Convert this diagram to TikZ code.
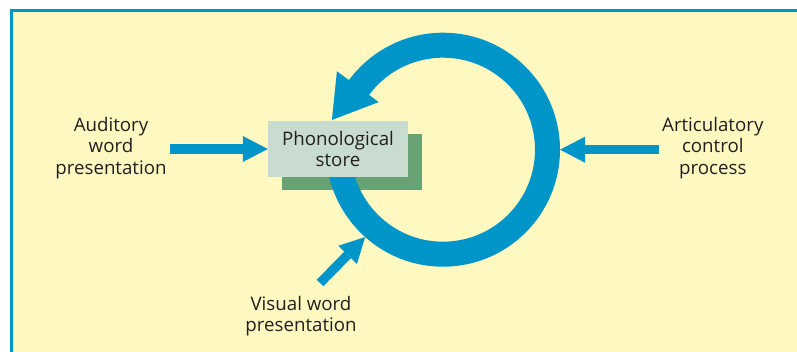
\documentclass[tikz,border=0pt]{standalone}
\usepackage{fontspec}
\setmainfont{Open Sans}
\usetikzlibrary{arrows.meta}
\definecolor{flowblue}{HTML}{0095C9}
\definecolor{paper}{HTML}{FFF9C1}
\definecolor{storefill}{HTML}{C9DCD0}
\definecolor{storeshade}{HTML}{67A174}
\definecolor{ink}{HTML}{231F20}
\pgfdeclarelayer{bg}
\pgfdeclarelayer{shade}
\pgfsetlayers{bg,shade,main}
\begin{document}
\begin{tikzpicture}[x=1pt,y=1pt,
  txt/.style={align=center, text=ink, inner sep=3pt,
    font=\fontsize{18.7}{21.3}\selectfont},
  storebox/.style={txt, fill=storefill, minimum width=140pt,
    minimum height=56pt, inner sep=0pt},
  feed/.style={draw=flowblue, line width=9.3pt,
    -{Triangle[length=25pt,width=26pt,line width=0pt]}},
  loop/.style={draw=flowblue, line width=25pt}]
\useasboundingbox (0,0) rectangle (797,352);

% panel: white margin, pale paper, blue rule on top and left
\begin{pgfonlayer}{bg}
  \fill[white] (0,0) rectangle (797,352);
  \fill[paper] (12,0) rectangle (797,341);
  \draw[flowblue, line width=3pt] (10,341.5) -- (797,341.5);
  \draw[flowblue, line width=3pt] (11.5,0) -- (11.5,343);
\end{pgfonlayer}

% rehearsal loop around the store
\coordinate (rc) at (443,202.3);
\draw[loop] ([shift={(rc)}]180:104.5) arc[start angle=180, end angle=505, radius=104.5];
\fill[flowblue] ([shift={(rc)}]143.5:80) -- ([shift={(rc)}]143.5:132)
  -- ([shift={(rc)}]165:115) -- cycle;
\coordinate (ringE) at ([shift={(rc)}]0:117);
\coordinate (ringSW) at ([shift={(rc)}]228.3:117);

% phonological store with its offset block
\node[storebox] (store) at (338,203) {Phonological\\store};
\begin{pgfonlayer}{shade}
  \fill[storeshade] ([shift={(14,-13)}]store.south west)
    rectangle ([shift={(14,-13)}]store.north east);
\end{pgfonlayer}

% inputs
\node[txt] (aud) at (111,204) {Auditory\\word\\presentation};
\node[txt] (art) at (712.8,204) {Articulatory\\control\\process};
\node[txt] (vis) at (301,36.2) {Visual word\\presentation};
\coordinate (visT) at (320,69);

\draw[feed] (aud.east |- store.west) -- (store.west);
\draw[feed] (art.west |- ringE) -- (ringE);
\draw[feed] (visT) -- (ringSW);
\end{tikzpicture}
\end{document}
